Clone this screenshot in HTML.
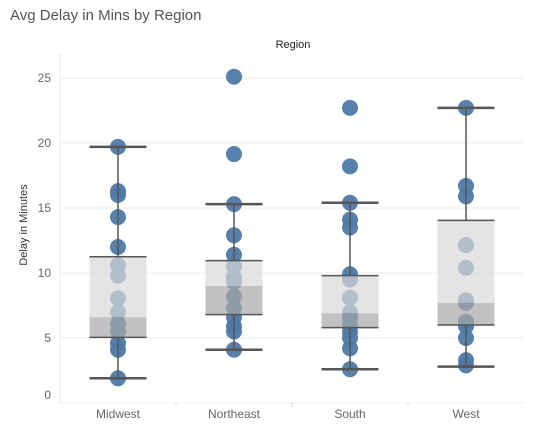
<!DOCTYPE html>
<html><head><meta charset="utf-8"><style>
body{margin:0;background:#fff;font-family:"Liberation Sans",sans-serif}
svg{display:block}
</style></head><body>
<svg width="534" height="437" xmlns="http://www.w3.org/2000/svg">
<text x="10" y="20" font-size="15" fill="#555">Avg Delay in Mins by Region</text>
<text x="293" y="48" font-size="11" fill="#222" text-anchor="middle">Region</text>
<text transform="translate(27,225) rotate(-90)" font-size="11" fill="#333" text-anchor="middle">Delay in Minutes</text>
<g id="grid"></g>
<g id="marks"></g>
</svg>
<script>
const categories=["Midwest","Northeast","South","West"];
const points=[
[19.7,16.3,16.0,14.3,12.0,10.6,9.8,8.05,7.0,6.1,5.5,4.6,4.1,1.9],
[25.1,19.15,15.3,12.9,11.4,10.5,9.7,9.3,8.2,7.3,6.6,5.9,5.5,4.1],
[22.7,18.2,15.4,14.1,13.5,9.9,9.5,8.1,7.0,6.6,6.0,5.5,5.0,4.2,2.6],
[22.7,16.7,15.9,12.15,10.4,7.9,7.7,6.25,5.9,5.0,3.3,2.9]];
const q1=[5.05,6.8,5.8,6.0];
const med=[6.6,9.0,6.9,7.7];
const q3=[11.25,10.95,9.8,14.05];
const wLo=[1.9,4.1,2.6,2.8];
const wHi=[19.7,15.3,15.4,22.7];
const yTicks=[0,5,10,15,20,25];
const NS="http://www.w3.org/2000/svg";
const L=60,R=524,T=53,B=403;
const y=v=>B-v*13;
const x=i=>L+58+i*116;
function mk(t,a,p){const e=document.createElementNS(NS,t);for(const k in a)e.setAttribute(k,a[k]);p.appendChild(e);return e;}
const g=document.getElementById('grid'),m=document.getElementById('marks');
yTicks.forEach(v=>{
 if(v>0){const l=mk('line',{x1:L,x2:R,y1:y(v),y2:y(v),stroke:'#eeeeee'},g);
 
 }
 const t=mk('text',{x:51,y:(v===0?y(v)-8:y(v))+4,'font-size':12,fill:'#666','text-anchor':'end'},g);
 t.textContent=v;
 
 
});
mk('line',{x1:L,x2:L,y1:T,y2:B,stroke:'#eeeeee'},g);
mk('line',{x1:L,x2:R,y1:B,y2:B,stroke:'#eeeeee'},g);
for(let i=1;i<4;i++)mk('line',{x1:L+i*116,x2:L+i*116,y1:B,y2:B+4,stroke:'#ddd'},g);
categories.forEach((c,i)=>{
 const cx=x(i);
 const t=mk('text',{x:cx,y:418,'font-size':12,fill:'#666','text-anchor':'middle'},g);
 t.textContent=c;
 
 
 points[i].forEach(v=>{
  const p=mk('circle',{cx:cx,cy:y(v),r:8,fill:'#4e79a7','fill-opacity':0.95},m);
  
  
 });
 const hw=28.5;
 mk('line',{x1:cx,x2:cx,y1:y(wHi[i]),y2:y(q3[i]),stroke:'#555','stroke-width':1.5},m);
 mk('line',{x1:cx,x2:cx,y1:y(q1[i]),y2:y(wLo[i]),stroke:'#555','stroke-width':1.5},m);
 const up=mk('rect',{x:cx-hw,y:y(q3[i]),width:2*hw,height:y(med[i])-y(q3[i]),fill:'#d8d8d8','fill-opacity':0.7},m);
 
 
 const lo=mk('rect',{x:cx-hw,y:y(med[i]),width:2*hw,height:y(q1[i])-y(med[i]),fill:'#a8a8a8','fill-opacity':0.7},m);
 
 
 mk('line',{x1:cx-hw,x2:cx+hw,y1:y(q3[i]),y2:y(q3[i]),stroke:'#555','stroke-width':1.5},m);
 mk('line',{x1:cx-hw,x2:cx+hw,y1:y(q1[i]),y2:y(q1[i]),stroke:'#555','stroke-width':1.5},m);
 const wh=mk('line',{x1:cx-hw,x2:cx+hw,y1:y(wHi[i]),y2:y(wHi[i]),stroke:'#555','stroke-width':2.5},m);
 
 
 const wl=mk('line',{x1:cx-hw,x2:cx+hw,y1:y(wLo[i]),y2:y(wLo[i]),stroke:'#555','stroke-width':2.5},m);
 
 
});
</script>
</body></html>
